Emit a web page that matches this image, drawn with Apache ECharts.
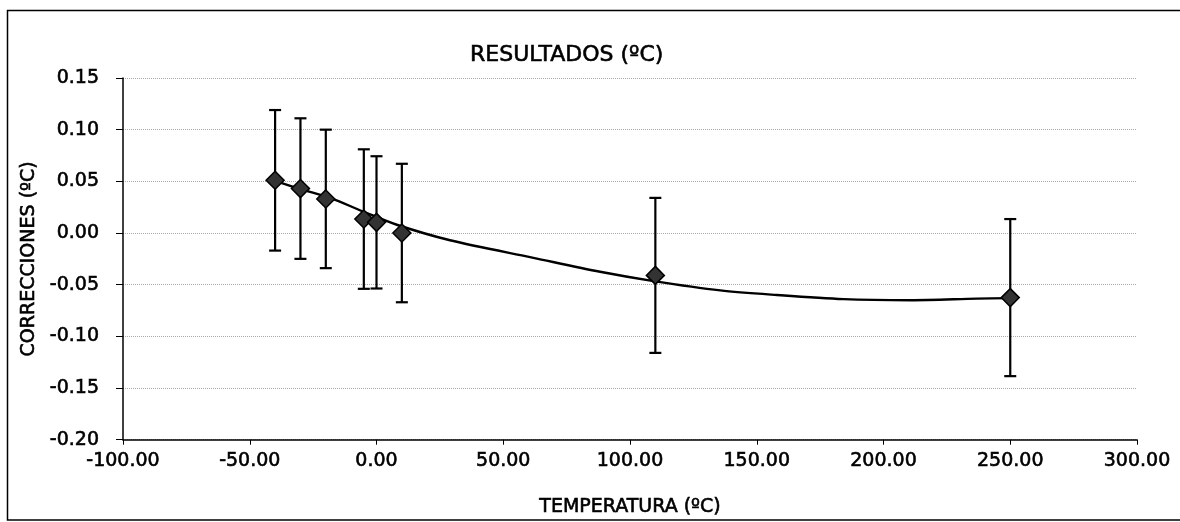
<!DOCTYPE html>
<html>
<head>
<meta charset="utf-8">
<script src="https://cdn.jsdelivr.net/npm/echarts@6/dist/echarts.min.js"></script>
<style>
html,body{margin:0;padding:0;background:#fff;}
#c{width:1180px;height:522px;}
</style>
</head>
<body>
<div id="c"></div>
<script>
// Measured points
const temps = [-40, -30, -20, -5, 0, 10, 110, 250];
const corr  = [0.051, 0.043, 0.033, 0.0135, 0.0103, 0.000, -0.041, -0.0625];
const errU  = [0.068, 0.068, 0.067, 0.0675, 0.064, 0.067, 0.075, 0.076];
// Trend curve
const trendX = [-40.6, -30, -18.3, -5, 8, 29, 61.9, 88.2, 109.3, 135.6, 158, 184.2, 210.6, 236.9, 250];
const trendY = [0.051, 0.0425, 0.034, 0.0205, 0.008, -0.007, -0.024, -0.0375, -0.0465, -0.0555, -0.060, -0.064, -0.065, -0.0635, -0.063];
const xTicks = {min: -100, max: 300, step: 50};
const yTicks = {min: -0.20, max: 0.15, step: 0.05};

const FONT = 'DejaVu Sans';
const TXT = {fontFamily: FONT, color: '#000', fontWeight: 'normal', textBorderColor: '#000', textBorderWidth: 0.6};
const pts = temps.map((t, i) => [t, corr[i]]);
const errData = temps.map((t, i) => [t, corr[i] + errU[i], corr[i] - errU[i]]);
const trend = trendX.map((x, i) => [x, trendY[i]]);

const chart = echarts.init(document.getElementById('c'), null, {renderer: 'canvas'});
chart.setOption({
  animation: false,
  backgroundColor: '#fff',
  title: {
    text: 'RESULTADOS (ºC)',
    left: 465, top: 39,
    textStyle: Object.assign({}, TXT, {fontSize: 22})
  },
  graphic: [{
    type: 'rect', silent: true,
    shape: {x: 7.5, y: 10.5, width: 1300, height: 509.5},
    style: {fill: 'none', stroke: '#000', lineWidth: 1.5}
  }],
  grid: {left: 123, right: 43, top: 78, bottom: 82, containLabel: false},
  xAxis: {
    type: 'value',
    min: xTicks.min, max: xTicks.max, interval: xTicks.step,
    name: 'TEMPERATURA (ºC)', nameLocation: 'middle', nameGap: 58,
    nameTextStyle: Object.assign({}, TXT, {fontSize: 19}),
    axisLine: {onZero: false, lineStyle: {color: '#000', width: 1.5}},
    axisTick: {show: true, length: 5, lineStyle: {color: '#000'}},
    axisLabel: Object.assign({}, TXT, {fontSize: 19, margin: 12, formatter: v => v.toFixed(2)}),
    splitLine: {show: false}
  },
  yAxis: {
    type: 'value',
    min: yTicks.min, max: yTicks.max, interval: yTicks.step,
    name: 'CORRECCIONES (ºC)', nameLocation: 'middle', nameGap: 81,
    nameTextStyle: Object.assign({}, TXT, {fontSize: 19}),
    axisLine: {show: true, onZero: false, lineStyle: {color: '#000', width: 1.5}},
    axisTick: {show: true, length: 7, lineStyle: {color: '#000'}},
    axisLabel: Object.assign({}, TXT, {fontSize: 19, margin: 24, formatter: v => v.toFixed(2)}),
    splitLine: {show: true, lineStyle: {color: '#aaa', type: 'dotted', width: 1}}
  },
  series: [
    {
      type: 'custom',
      data: errData,
      z: 2,
      renderItem: function (params, api) {
        const x = api.value(0);
        const top = api.coord([x, api.value(1)]);
        const bot = api.coord([x, api.value(2)]);
        const hw = 6;
        const style = {stroke: '#000', lineWidth: 2.2};
        return {
          type: 'group',
          children: [
            {type: 'line', shape: {x1: top[0], y1: top[1], x2: bot[0], y2: bot[1]}, style: style},
            {type: 'line', shape: {x1: top[0] - hw, y1: top[1], x2: top[0] + hw, y2: top[1]}, style: style},
            {type: 'line', shape: {x1: bot[0] - hw, y1: bot[1], x2: bot[0] + hw, y2: bot[1]}, style: style}
          ]
        };
      }
    },
    {
      type: 'line',
      data: trend,
      smooth: 0.3,
      showSymbol: false,
      symbol: 'none',
      z: 3,
      lineStyle: {color: '#000', width: 2.4}
    },
    {
      type: 'scatter',
      data: pts,
      symbol: 'diamond',
      symbolSize: 18,
      z: 4,
      itemStyle: {color: '#333', borderColor: '#000', borderWidth: 1.5, opacity: 1}
    }
  ]
});
</script>
</body>
</html>
